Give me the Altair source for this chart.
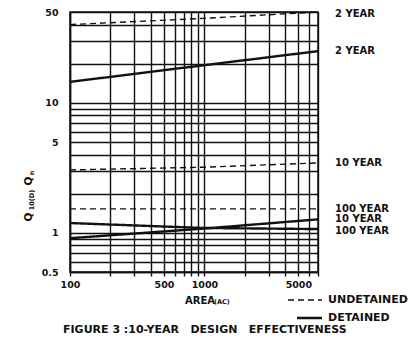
import altair as alt
import pandas as pd

# ---- data ----
area_pts = [100, 1000, 7000]
undet_2yr = [40.0, 44.7, 50.0]
det_2yr = [14.5, 19.5, 25.0]
undet_10yr = [3.05, 3.2, 3.45]
undet_100yr = [1.53, 1.53, 1.53]
det_10yr = [0.91, 1.08, 1.27]
det_100yr = [1.19, 1.09, 1.07]

series = [
    ("U2", "UNDETAINED", undet_2yr),
    ("D2", "DETAINED", det_2yr),
    ("U10", "UNDETAINED", undet_10yr),
    ("U100", "UNDETAINED", undet_100yr),
    ("D10", "DETAINED", det_10yr),
    ("D100", "DETAINED", det_100yr),
]

right_labels = ["2 YEAR", "2 YEAR", "10 YEAR", "100 YEAR", "10 YEAR", "100 YEAR"]
right_label_q = [48.0, 25.0, 3.45, 1.53, 1.28, 1.04]

x_grid = [100, 200, 300, 400, 500, 600, 700, 800, 900,
          1000, 2000, 3000, 4000, 5000, 6000, 7000]
x_labels = [100, 500, 1000, 5000]
y_grid = [0.5, 0.6, 0.7, 0.8, 0.9, 1, 2, 3, 4, 5, 6, 7, 8, 9,
          10, 20, 30, 40, 50]
y_labels = [0.5, 1, 5, 10, 50]

rows = []
for name, kind, vals in series:
    for a, q in zip(area_pts, vals):
        rows.append({"area": a, "q": q, "series": name, "kind": kind})
df = pd.DataFrame(rows)
lab_df = pd.DataFrame({"label": right_labels, "q": right_label_q})

FONT = "DejaVu Sans"
INK = "#111111"
W, H = 248, 260
NB = "\u00a0"

xscale = alt.Scale(type="log", domain=[100, 7000], nice=False)
yscale = alt.Scale(type="log", domain=[0.5, 50], nice=False)

xenc = alt.X("area:Q", scale=xscale, title=None,
             axis=alt.Axis(values=x_grid, format="d",
                           labelExpr="indexof(%s, datum.value) >= 0 ? datum.label : ''" % str(x_labels),
                           grid=True, gridColor=INK, gridWidth=1.4, gridOpacity=1,
                           ticks=True, tickSize=4, tickColor=INK, tickWidth=1.4,
                           domainColor=INK, domainWidth=1.5,
                           labelFont=FONT, labelFontWeight="bold", labelFontSize=9.5,
                           labelColor=INK, labelPadding=3, labelFlush=False))
yenc = alt.Y("q:Q", scale=yscale, title=None,
             axis=alt.Axis(values=y_grid, format="~g",
                           labelExpr="indexof(%s, datum.value) >= 0 ? datum.label : ''" % str(y_labels),
                           grid=True, gridColor=INK, gridWidth=1.4, gridOpacity=1,
                           ticks=False, domainColor=INK, domainWidth=1.5,
                           labelFont=FONT, labelFontWeight="bold", labelFontSize=9.5,
                           labelColor=INK, labelPadding=12, labelFlush=False))

lines = alt.Chart(df).mark_line(color=INK).encode(
    x=xenc,
    y=yenc,
    detail="series:N",
    strokeDash=alt.StrokeDash("kind:N", scale=alt.Scale(domain=["UNDETAINED", "DETAINED"],
                                                        range=[[6, 4], [1, 0]]), legend=None),
    strokeWidth=alt.StrokeWidth("kind:N", scale=alt.Scale(domain=["UNDETAINED", "DETAINED"],
                                                          range=[1.4, 2.4]), legend=None),
)

labels = alt.Chart(lab_df).mark_text(align="left", baseline="middle", font=FONT,
                                     fontWeight="bold", fontSize=10, color=INK).encode(
    x=alt.value(W + 17), y=yenc, text="label:N")

one = alt.Data(values=[{"a": 1}])

def txt(s, x, y, size=10.5, align="left", angle=None):
    kw = dict(align=align, baseline="middle", font=FONT, fontWeight="bold",
              fontSize=size, color=INK)
    if angle is not None:
        kw["angle"] = angle
    return alt.Chart(one).mark_text(**kw).encode(
        x=alt.value(x), y=alt.value(y), text=alt.value(s))

def rule(x1, x2, y, dash, width):
    return alt.Chart(one).mark_rule(color=INK, strokeDash=dash, strokeWidth=width).encode(
        x=alt.value(x1), x2=alt.value(x2), y=alt.value(y))

title_text = "FIGURE 3 :10-YEAR" + NB * 3 + "DESIGN" + NB * 3 + "EFFECTIVENESS"

annot = [
    txt("AREA", 115, 289, 10),
    txt("(AC)", 144, 290, 6.5),
    rule(218, 252, 288, [6, 4], 1.4),
    rule(227, 252, 306, [1, 0], 2.4),
    txt("UNDETAINED", 258, 288, 11),
    txt("DETAINED", 258, 306, 11),
    txt(title_text, -7, 318, 11),
    # rotated y-axis title  Q10(D) / Qn
    txt("Q", -41.5, 205, 10.5, align="center", angle=270),
    txt("10(D)", -38, 188, 6.5, align="center", angle=270),
    txt("Q", -41.5, 169, 10.5, align="center", angle=270),
    txt("n", -38, 161, 6.5, align="center", angle=270),
]

chart = alt.layer(lines, labels, *annot).properties(
    width=W, height=H,
    autosize=alt.AutoSizeParams(type="none"),
    padding={"left": 62, "top": 4, "right": 93, "bottom": 67},
    background="white",
).configure_view(stroke=INK, strokeWidth=1.5)

chart.save("out.html", embed_options={"renderer": "svg", "actions": False})
